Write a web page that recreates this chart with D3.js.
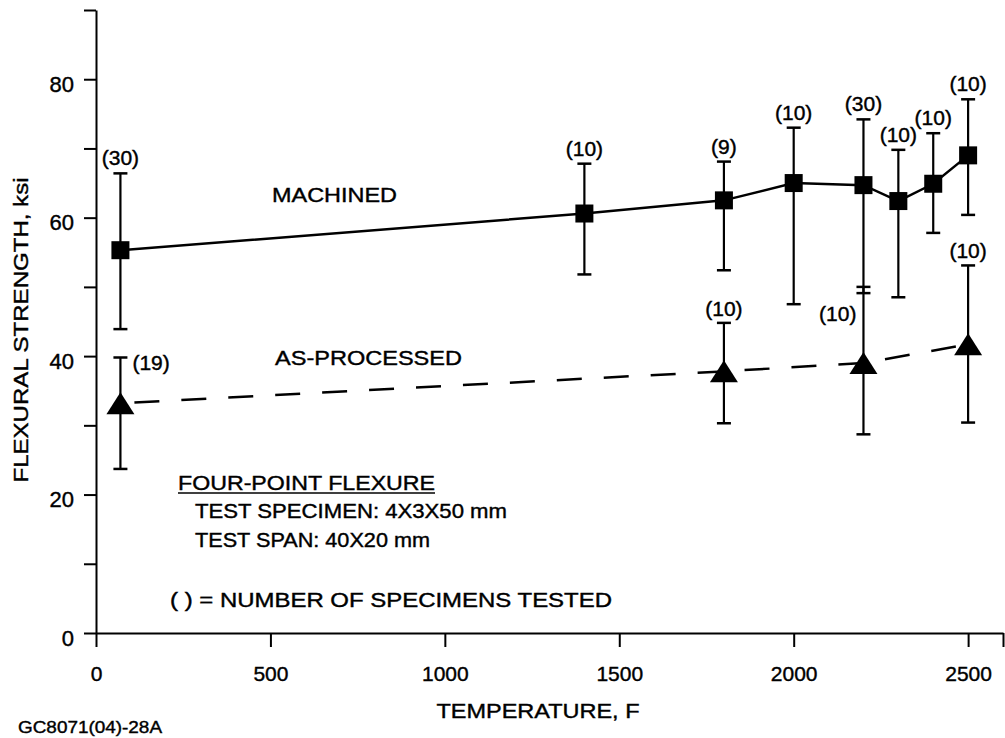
<!DOCTYPE html>
<html><head><meta charset="utf-8">
<script src="https://cdn.jsdelivr.net/npm/d3@7"></script>
<style>
body{margin:0;background:#fff}
svg{display:block}
text{font-family:"Liberation Sans",Arial,Helvetica,sans-serif;fill:#000;stroke:#000;stroke-width:0.4px}
</style>
</head><body><svg id="c" width="1005" height="738"></svg>
<script>
// ---- data ----
const yTicks = [0,10,20,30,40,50,60,70,80,90];
const yTickLabels = [0,20,40,60,80];
const xTicks = [0,500,1000,1500,2000,2500,2600];
const xTickLabels = [0,500,1000,1500,2000,2500];

const machinedTemp = [70,1400,1800,2000,2200,2300,2400,2500];
const machinedMean = [55.3,60.6,62.5,65.0,64.7,62.4,64.9,69.0];
const machinedHigh = [66.4,67.8,68.1,73.0,74.2,69.8,72.2,77.1];
const machinedLow  = [43.9,51.8,52.4,47.5,49.1,48.5,57.8,60.4];
const machinedN    = [30,10,9,10,30,10,10,10];

const apTemp = [70,1800,2200,2500];
const apMean = [33.2,37.8,39.0,41.7];
const apHigh = [39.8,44.8,50.0,53.1];
const apLow  = [23.7,30.3,28.7,30.4];
const apN    = [19,10,10,10];
const apLabelSide = ["right","above","left","above"];

const xTitle = "TEMPERATURE, F";
const yTitle = "FLEXURAL STRENGTH, ksi";
const figId = "GC8071(04)-28A";
const seriesNames = ["MACHINED","AS-PROCESSED"];
const noteTitle = "FOUR-POINT FLEXURE";
const noteLines = ["TEST SPECIMEN:  4X3X50 mm","TEST SPAN:  40X20 mm"];
const noteKey = "( ) = NUMBER OF SPECIMENS TESTED";

// ---- chart ----
const svg = d3.select("#c");
const x = d3.scaleLinear().domain([0,2600]).range([96,1003]);
const y = d3.scaleLinear().domain([0,90]).range([633,10]);

const yAxis = d3.axisLeft(y).tickValues(yTicks).tickSize(12).tickSizeOuter(0).tickPadding(10)
  .tickFormat(d => yTickLabels.includes(d) ? d : "");
const gy = svg.append("g").attr("transform","translate(96,0)").call(yAxis);
gy.selectAll("text").attr("dy","0.55em").style("font-size","22px");

const xAxis = d3.axisBottom(x).tickValues(xTicks).tickSize(14).tickSizeOuter(0).tickPadding(19)
  .tickFormat(d => xTickLabels.includes(d) ? d : "");
const gx = svg.append("g").attr("transform","translate(0,633)").call(xAxis);
gx.selectAll("text").style("font-size","21px");

[gx,gy].forEach(g=>{
  g.select(".domain").attr("stroke","#000").attr("stroke-width",2);
  g.selectAll(".tick line").attr("stroke","#000").attr("stroke-width",2);
});

// axis titles
svg.append("text").attr("x",538).attr("y",718).attr("text-anchor","middle")
  .style("font-size","21px").attr("textLength",203).attr("lengthAdjust","spacingAndGlyphs").text(xTitle);
svg.append("text").attr("transform","translate(28,330) rotate(-90)").attr("text-anchor","middle")
  .style("font-size","21px").attr("textLength",305).attr("lengthAdjust","spacingAndGlyphs").text(yTitle);
svg.append("text").attr("x",18).attr("y",733)
  .style("font-size","17px").attr("textLength",144).attr("lengthAdjust","spacingAndGlyphs").text(figId);

// series builders
const mData = machinedTemp.map((t,i)=>({t,m:machinedMean[i],hi:machinedHigh[i],lo:machinedLow[i],n:machinedN[i]}));
const aData = apTemp.map((t,i)=>({t,m:apMean[i],hi:apHigh[i],lo:apLow[i],n:apN[i],side:apLabelSide[i]}));

const line = d3.line().x(d=>x(d.t)).y(d=>y(d.m));

svg.append("path").datum(mData).attr("d",line).attr("fill","none").attr("stroke","#000").attr("stroke-width",2.5);
svg.append("path").datum(aData).attr("d",line).attr("fill","none").attr("stroke","#000").attr("stroke-width",2.5)
  .attr("stroke-dasharray","25,22").attr("stroke-dashoffset",-14);

function errorBars(data){
  const g = svg.append("g").attr("stroke","#000");
  data.forEach(d=>{
    const cx = x(d.t);
    g.append("line").attr("x1",cx).attr("x2",cx).attr("y1",y(d.hi)).attr("y2",y(d.lo)).attr("stroke-width",2.2);
    [d.hi,d.lo].forEach(v=>{
      g.append("line").attr("x1",cx-7).attr("x2",cx+7).attr("y1",y(v)).attr("y2",y(v)).attr("stroke-width",2.5);
    });
  });
}
errorBars(mData);
errorBars(aData);

// markers
svg.append("g").selectAll("rect").data(mData).join("rect")
  .attr("x",d=>x(d.t)-9).attr("y",d=>y(d.m)-9).attr("width",18).attr("height",18).attr("fill","#000");
svg.append("g").selectAll("path").data(aData).join("path")
  .attr("d",d=>{const cx=x(d.t), cy=y(d.m); return `M${cx},${cy-11}L${cx+14},${cy+11}L${cx-14},${cy+11}Z`;})
  .attr("fill","#000");

// count labels
svg.append("g").selectAll("text").data(mData).join("text")
  .attr("x",d=>x(d.t)).attr("y",d=>y(d.hi)-8).attr("text-anchor","middle").style("font-size","21px")
  .text(d=>`(${d.n})`);
svg.append("g").selectAll("text").data(aData).join("text")
  .attr("x",d=> d.side==="right" ? x(d.t)+12 : d.side==="left" ? x(d.t)-7 : x(d.t))
  .attr("y",d=> d.side==="right" ? y(d.hi)+13 : d.side==="left" ? y(d.hi)+34 : y(d.hi)-7)
  .attr("text-anchor",d=> d.side==="right" ? "start" : d.side==="left" ? "end" : "middle")
  .style("font-size","21px").text(d=>`(${d.n})`);

// series names
svg.append("text").attr("x",272).attr("y",202).style("font-size","21px")
  .attr("textLength",125).attr("lengthAdjust","spacingAndGlyphs").text(seriesNames[0]);
svg.append("text").attr("x",275).attr("y",365).style("font-size","21px")
  .attr("textLength",187).attr("lengthAdjust","spacingAndGlyphs").text(seriesNames[1]);

// notes
svg.append("text").attr("x",178).attr("y",490).style("font-size","20px")
  .attr("textLength",257).attr("lengthAdjust","spacingAndGlyphs").text(noteTitle);
svg.append("line").attr("x1",178).attr("x2",435).attr("y1",493).attr("y2",493).attr("stroke","#000").attr("stroke-width",1.5);
noteLines.forEach((s,i)=>{
  svg.append("text").attr("x",195).attr("y",518+i*29).style("font-size","20px")
    .attr("textLength",i===0?312:235).attr("lengthAdjust","spacingAndGlyphs").text(s);
});
svg.append("text").attr("x",170).attr("y",607).style("font-size","20px")
  .attr("textLength",442).attr("lengthAdjust","spacingAndGlyphs").text(noteKey);
</script>
</body></html>
